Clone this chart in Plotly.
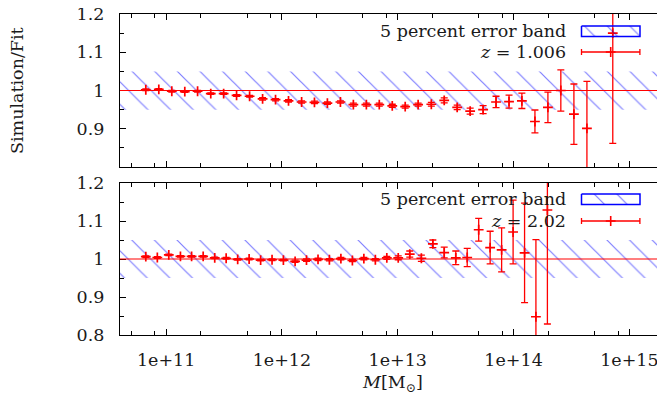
import plotly.graph_objects as go

# ---------------- data ----------------
mass_tick_values = [1e11, 1e12, 1e13, 1e14, 1e15]
mass_tick_labels = ["1e+11", "1e+12", "1e+13", "1e+14", "1e+15"]
minor_mass_ticks = [5e10, 8e10, 2e11, 5e11, 8e11, 2e12, 5e12, 8e12,
                    2e13, 5e13, 8e13, 2e14, 5e14, 8e14]
ratio_tick_values = [0.8, 0.9, 1.0, 1.1, 1.2]
ratio_labels_top = [" ", "0.9", "1", "1.1", "1.2"]
ratio_labels_bottom = ["0.8", "0.9", "1", "1.1", "1.2"]
minor_ratio_ticks = [0.85, 0.95, 1.05, 1.15]

band_lower = 0.95
band_upper = 1.05
band_mass = [1e10, 1e16]

mass_z1 = [6.68e10, 8.65e10, 1.12e11, 1.45e11, 1.87e11, 2.43e11, 3.14e11, 4.06e11,
           5.26e11, 6.81e11, 8.81e11, 1.14e12, 1.48e12, 1.91e12, 2.47e12, 3.20e12,
           4.14e12, 5.36e12, 6.93e12, 8.97e12, 1.16e13, 1.50e13, 1.95e13, 2.52e13,
           3.26e13, 4.22e13, 5.46e13, 7.06e13, 9.14e13, 1.18e14, 1.53e14, 1.98e14,
           2.56e14, 3.32e14, 4.30e14, 7.19e14]
ratio_z1 = [1.002, 1.003, 0.998, 0.997, 0.998, 0.992, 0.992, 0.987,
            0.985, 0.978, 0.976, 0.973, 0.970, 0.969, 0.967, 0.970,
            0.963, 0.963, 0.963, 0.960, 0.958, 0.963, 0.964, 0.974,
            0.956, 0.946, 0.950, 0.970, 0.971, 0.973, 0.919, 0.956,
            1.000, 0.938, 0.901, 1.150]
err_z1 = [0.002, 0.002, 0.002, 0.002, 0.002, 0.002, 0.002, 0.002,
          0.002, 0.003, 0.003, 0.003, 0.003, 0.003, 0.003, 0.003,
          0.004, 0.004, 0.004, 0.004, 0.004, 0.004, 0.005, 0.0065,
          0.006, 0.008, 0.0105, 0.015, 0.017, 0.020, 0.030, 0.040,
          0.054, 0.079, 0.123, 0.288]

mass_z2 = [6.68e10, 8.40e10, 1.055e11, 1.33e11, 1.66e11, 2.09e11, 2.63e11, 3.30e11,
           4.15e11, 5.21e11, 6.55e11, 8.22e11, 1.03e12, 1.30e12, 1.63e12, 2.05e12,
           2.57e12, 3.23e12, 4.06e12, 5.10e12, 6.41e12, 8.05e12, 1.01e13, 1.27e13,
           1.60e13, 2.01e13, 2.52e13, 3.17e13, 3.98e13, 5.00e13, 6.28e13, 7.89e13,
           9.91e13, 1.245e14, 1.56e14, 1.96e14]
ratio_z2 = [1.006, 1.004, 1.011, 1.007, 1.007, 1.007, 1.003, 1.002,
            0.999, 1.000, 0.997, 0.998, 0.997, 0.994, 0.997, 0.999,
            0.998, 1.001, 0.996, 1.001, 0.998, 1.003, 1.003, 1.013,
            1.002, 1.040, 1.017, 1.003, 1.004, 1.077, 1.030, 1.024,
            1.071, 1.016, 0.848, 1.129]
err_z2 = [0.002, 0.002, 0.002, 0.002, 0.002, 0.002, 0.002, 0.002,
          0.002, 0.002, 0.002, 0.002, 0.002, 0.003, 0.003, 0.003,
          0.003, 0.003, 0.003, 0.003, 0.003, 0.004, 0.005, 0.008,
          0.008, 0.010, 0.014, 0.018, 0.024, 0.030, 0.043, 0.058,
          0.084, 0.131, 0.203, 0.300]

series_labels = ["<i>z</i> = 1.006", "<i>z</i> = 2.02"]
band_label = "5 percent error band"

# ---------------- style ----------------
FONT = "DejaVu Serif"
FS = 17.5
TXT = "#1a1a1a"
RED = "#ff0000"
BLUE = "#0000ff"
W, H = 665, 402
OFF = 8  # page body margin offset
# target plot area in screen pixels
SX0, SX1, SY0, SY1 = 120, 664, 14, 335
ML, MR = SX0 - OFF, W - (SX1 - OFF)
MT, MB = SY0 - OFF, H - (SY1 - OFF)
PW, PH = SX1 - SX0, SY1 - SY0

def py(p):  # screen pixel y -> paper y
    return (SY1 - p) / PH

def px(p):  # screen pixel x -> paper x
    return (p - SX0) / PW

pattern = dict(shape="\\", fgcolor=BLUE, bgcolor="rgba(0,0,0,0)", size=16, solidity=0.075)

fig = go.Figure()

panels = [("x", "y", mass_z1, ratio_z1, err_z1), ("x2", "y2", mass_z2, ratio_z2, err_z2)]
for xa, ya, m, r, e in panels:
    fig.add_trace(go.Scatter(
        x=[band_mass[0], band_mass[1], band_mass[1], band_mass[0], band_mass[0]],
        y=[band_lower, band_lower, band_upper, band_upper, band_lower],
        mode="lines", fill="toself", fillcolor="rgba(0,0,0,0)", fillpattern=pattern,
        line=dict(color="rgba(0,0,0,0)", width=0), xaxis=xa, yaxis=ya,
        hoverinfo="skip", showlegend=False))
    fig.add_trace(go.Scatter(
        x=m, y=r, mode="markers", xaxis=xa, yaxis=ya, showlegend=False,
        marker=dict(symbol="cross-thin", size=7, color=RED, line=dict(color=RED, width=1.7)),
        error_y=dict(type="data", array=e, color=RED, thickness=1.3, width=3.5)))
    fig.add_shape(type="line", xref=f"{xa} domain", yref=ya, x0=0, x1=1, y0=1, y1=1,
                  line=dict(color=RED, width=1.2))

# legend samples on a screen-pixel overlay axis
legend_rows = [(31, 52, series_labels[0]), (199, 221, series_labels[1])]
for yb, ye, lab in legend_rows:
    fig.add_trace(go.Scatter(
        x=[581.5, 640, 640, 581.5, 581.5], y=[yb - 5, yb - 5, yb + 5.5, yb + 5.5, yb - 5],
        mode="lines", fill="toself", fillcolor="rgba(0,0,0,0)", fillpattern=pattern,
        line=dict(color=BLUE, width=1.5), xaxis="x3", yaxis="y3",
        hoverinfo="skip", showlegend=False))
    fig.add_trace(go.Scatter(
        x=[610.7], y=[ye], mode="markers", xaxis="x3", yaxis="y3", showlegend=False,
        marker=dict(symbol="cross-thin", size=7, color=RED, line=dict(color=RED, width=1.6)),
        error_x=dict(type="data", array=[29.2], color=RED, thickness=1.3, width=3)))
    fig.add_annotation(x=568, y=yb, xref="x3", yref="y3", text=band_label, showarrow=False,
                       xanchor="right", yanchor="middle", font=dict(family=FONT, size=FS, color=TXT))
    fig.add_annotation(x=568, y=ye, xref="x3", yref="y3", text=lab, showarrow=False,
                       xanchor="right", yanchor="middle", font=dict(family=FONT, size=FS, color=TXT))

axis_common = dict(showline=True, linecolor="black", linewidth=1.3, mirror="allticks",
                   ticks="inside", ticklen=6, tickwidth=1, tickcolor="black",
                   showgrid=False, zeroline=False, ticklabeloverflow="allow",
                   tickfont=dict(family=FONT, size=FS, color=TXT))

xcommon = dict(axis_common, type="log", range=[10.602, 15.299],
               tickmode="array", tickvals=mass_tick_values, ticktext=mass_tick_labels,
               minor=dict(tickmode="array", tickvals=minor_mass_ticks, ticks="inside", ticklen=3.5,
                          tickcolor="black", tickwidth=1, showgrid=False))
ycommon = dict(axis_common, range=[0.8, 1.2], tickmode="array", tickvals=ratio_tick_values,
               ticklabelstandoff=11,
               minor=dict(tickmode="array", tickvals=minor_ratio_ticks, ticks="inside", ticklen=3.5,
                          tickcolor="black", tickwidth=1, showgrid=False))

fig.update_layout(
    width=W, height=H,
    margin=dict(l=ML, r=MR, t=MT, b=MB, autoexpand=False),
    paper_bgcolor="white", plot_bgcolor="rgba(0,0,0,0)",
    showlegend=False,
    xaxis=dict(xcommon, domain=[0, 1], anchor="y", showticklabels=False),
    yaxis=dict(ycommon, domain=[py(167), 1], anchor="x", ticktext=ratio_labels_top),
    xaxis2=dict(xcommon, domain=[0, 1], anchor="y2", ticklabelstandoff=9),
    yaxis2=dict(ycommon, domain=[0, py(183)], anchor="x2", ticktext=ratio_labels_bottom),
    xaxis3=dict(domain=[0, 1], anchor="y3", range=[SX0, SX1], visible=False, fixedrange=True),
    yaxis3=dict(domain=[0, 1], anchor="x3", range=[SY1, SY0], visible=False, fixedrange=True),
)

fig.add_annotation(x=0.5, y=py(383), xref="paper", yref="paper", showarrow=False,
                   text="<i>M</i>[M<sub>⊙</sub>]", xanchor="center", yanchor="middle",
                   font=dict(family=FONT, size=FS, color=TXT))
fig.add_annotation(x=px(17), y=py(91), xref="paper", yref="paper", showarrow=False,
                   text="Simulation/Fit", textangle=-90, xanchor="center", yanchor="middle",
                   font=dict(family=FONT, size=FS, color=TXT))

fig.write_html("out.html")
